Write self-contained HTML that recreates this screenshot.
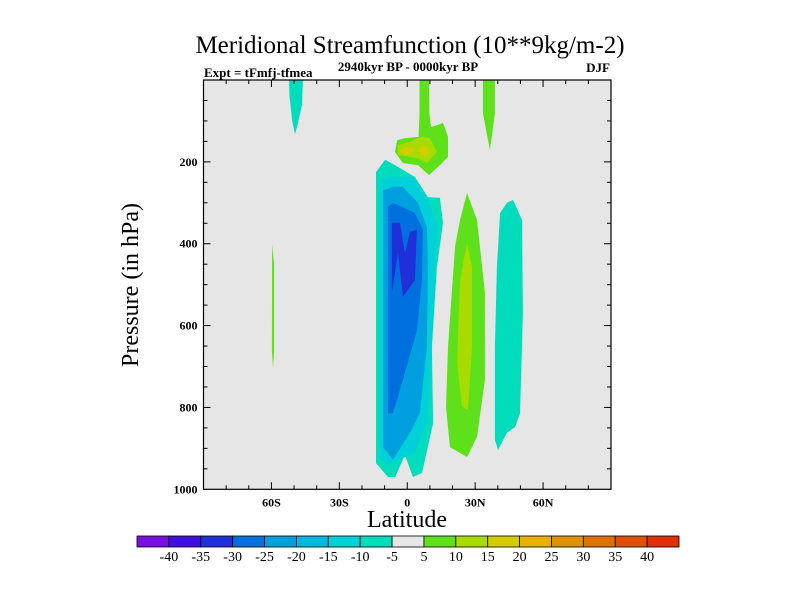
<!DOCTYPE html>
<html><head><meta charset="utf-8"><style>
body{margin:0;background:#fff;}
svg{display:block;font-family:"Liberation Serif",serif;}
</style></head><body>
<svg id="chart" width="800" height="600" viewBox="0 0 800 600">
<text x="410" y="53" font-size="25" text-anchor="middle">Meridional Streamfunction (10**9kg/m-2)</text>
<text x="204" y="77" font-size="13" font-weight="bold">Expt = tFmfj-tfmea</text>
<text x="408" y="71" font-size="13" font-weight="bold" text-anchor="middle">2940kyr BP - 0000kyr BP</text>
<text x="610" y="72" font-size="13" font-weight="bold" text-anchor="end">DJF</text>
<text transform="translate(138,285) rotate(-90)" font-size="24" text-anchor="middle">Pressure (in hPa)</text>
<text x="407" y="527" font-size="24" text-anchor="middle">Latitude</text>
<rect x="203.5" y="80" width="407.5" height="409.3" fill="#e6e6e6"/>
<g id="fills"></g>
<g id="axes"></g>
<g id="colorbar"></g>
</svg>
<script>
const NS="http://www.w3.org/2000/svg";
const levelBounds=[-45,-40,-35,-30,-25,-20,-15,-10,-5,5,10,15,20,25,30,35,40,45];
const levelColors=["#7a10e0","#4010e0","#2030d8","#0070e0","#00a0e0","#00b8e0","#00d0d8","#00dcbc","#e6e6e6","#5ee01a","#a8dc00","#d4cc00","#e8b000","#e09000","#e07000","#e05000","#e03000"];
const cbLabels=[-40,-35,-30,-25,-20,-15,-10,-5,5,10,15,20,25,30,35,40];
const xTickLats=[-60,-30,0,30,60];
const xTickLabels=["60S","30S","0","30N","60N"];
const yTickVals=[200,400,600,800,1000];
// contour regions: value and outline as [lat, pressure]
const regionValues=[-7.5,-12.5,-22.5,-27.5,-32.5,7.5,12.5,17.5,17.5,7.5,7.5,12.5,-7.5,-7.5,7.5];
const regionOutlines=[
[[-9.8,195],[-13.8,225],[-13.8,936],[-8.5,970],[-5.4,970],[-1.0,916],[2.5,970],[6.5,960],[11.4,838],[10.9,652],[13.1,457],[15.8,349],[14.4,288],[9.1,286],[3.4,237],[-5.4,208]],
[[-7.6,237],[-12.1,244],[-12.1,928],[-7.6,936],[3.4,911],[8.7,838],[10.9,652],[12.2,457],[13.6,359],[9.1,293],[2.5,237]],
[[-6.3,261],[-10.7,270],[-10.7,897],[-6.3,928],[1.2,862],[5.6,814],[8.7,652],[9.1,457],[8.7,359],[4.7,300],[-1.9,261]],
[[-6.3,300],[-8.5,310],[-8.5,814],[-6.3,814],[-1.9,733],[4.3,611],[6.5,489],[6.9,366],[3.4,325]],
[[-6.8,349],[-6.8,520],[-4.1,423],[-1.9,530],[3.4,489],[4.3,366],[1.2,371],[-1.0,423],[-3.2,349]],
[[5.4,0],[9.6,0],[9.8,81],[10.5,115],[15.8,105],[18.0,139],[18.0,188],[14.4,208],[9.6,232],[4.7,208],[-1.9,203],[-5.4,176],[-4.5,147],[-1.0,142],[5.0,139],[5.4,81]],
[[-4.1,159],[-4.1,183],[4.7,191],[8.7,203],[13.1,176],[10.0,142],[5.6,139],[1.2,151]],
[[-3.5,173],[-1,164],[2.5,166],[2.5,180],[-1,183]],
[[4.7,171],[7,161],[9.5,166],[9.1,181],[6.5,186]],
[[33.4,0],[38.7,0],[38.7,81],[36.5,171],[33.4,81]],
[[26.4,276],[30.8,342],[34.3,520],[34.3,733],[30.8,872],[26.4,921],[18.9,897],[17.1,799],[18.0,652],[21.1,408],[23.3,342]],
[[26.4,398],[28.6,457],[28.6,652],[26.8,806],[24.2,799],[22.0,691],[23.3,489]],
[[46.7,293],[50.7,342],[51.1,569],[49.8,814],[47.6,848],[44.0,862],[40.1,904],[38.7,879],[38.7,652],[39.6,457],[41.0,325],[44.0,300]],
[[-52.2,0],[-46.1,0],[-46.5,60],[-48.5,110],[-49.6,133],[-50.8,100],[-52,40]],
[[-59.7,403],[-58.8,450],[-58.8,660],[-59.3,704],[-59.8,660]]
];
const X0=203.5,X1=611,Y0=80,Y1=489.3;
function xs(lat){return X0+(lat+90)/180*(X1-X0);}
function ys(p){return Y0+p/1000*(Y1-Y0);}
function colorFor(v){for(let i=0;i<levelBounds.length-1;i++){if(v>=levelBounds[i]&&v<levelBounds[i+1])return levelColors[i];}return "#e6e6e6";}
const fills=document.getElementById('fills');
regionOutlines.forEach((pts,i)=>{
  const pg=document.createElementNS(NS,'polygon');
  pg.setAttribute('points',pts.map(q=>xs(q[0]).toFixed(1)+','+ys(q[1]).toFixed(1)).join(' '));
  pg.setAttribute('fill',colorFor(regionValues[i]));
  
  
  fills.appendChild(pg);
});
const ax=document.getElementById('axes');
function line(x1,y1,x2,y2,name){const l=document.createElementNS(NS,'line');l.setAttribute('x1',x1);l.setAttribute('y1',y1);l.setAttribute('x2',x2);l.setAttribute('y2',y2);l.setAttribute('stroke','#000');l.setAttribute('stroke-width','1');


ax.appendChild(l);}
function text(x,y,s,anchor,name,size){const t=document.createElementNS(NS,'text');t.setAttribute('x',x);t.setAttribute('y',y);t.setAttribute('font-size',size||12);t.setAttribute('font-weight','bold');t.setAttribute('text-anchor',anchor);t.textContent=s;


ax.appendChild(t);}
const frame=document.createElementNS(NS,'rect');
frame.setAttribute('x',X0);frame.setAttribute('y',Y0);frame.setAttribute('width',X1-X0);frame.setAttribute('height',Y1-Y0);
frame.setAttribute('fill','none');frame.setAttribute('stroke','#000');frame.setAttribute('stroke-width','1.2');


ax.appendChild(frame);
for(let lat=-80;lat<=80;lat+=10){const major=lat%30===0;const L=major?7:4;
  line(xs(lat),Y1,xs(lat),Y1-L,'x-tick');line(xs(lat),Y0,xs(lat),Y0+L,'x-tick-top');}
for(let p=50;p<1000;p+=50){const major=p%200===0;const L=major?7:4;
  line(X0,ys(p),X0+L,ys(p),'y-tick');line(X1,ys(p),X1-L,ys(p),'y-tick-right');}
xTickLats.forEach((lat,i)=>text(xs(lat),Y1+17,xTickLabels[i],'middle','x-tick-label'));
yTickVals.forEach(v=>text(X0-6,ys(v)+4,String(v),'end','y-tick-label'));
const cb=document.getElementById('colorbar');
const CB0=137,CB1=679,CBY=536,CBH=11;
const w=(CB1-CB0)/levelColors.length;
levelColors.forEach((c,i)=>{const r=document.createElementNS(NS,'rect');
  r.setAttribute('x',CB0+i*w);r.setAttribute('y',CBY);r.setAttribute('width',w);r.setAttribute('height',CBH);
  r.setAttribute('fill',c);r.setAttribute('stroke','#000');r.setAttribute('stroke-width','0.8');
  
  
  cb.appendChild(r);});
cbLabels.forEach((v,i)=>{const t=document.createElementNS(NS,'text');
  t.setAttribute('x',CB0+(i+1)*w);t.setAttribute('y',CBY+CBH+14);t.setAttribute('font-size','14');t.setAttribute('text-anchor','middle');
  t.textContent=String(v);
  
  
  cb.appendChild(t);});
</script>
</body></html>
